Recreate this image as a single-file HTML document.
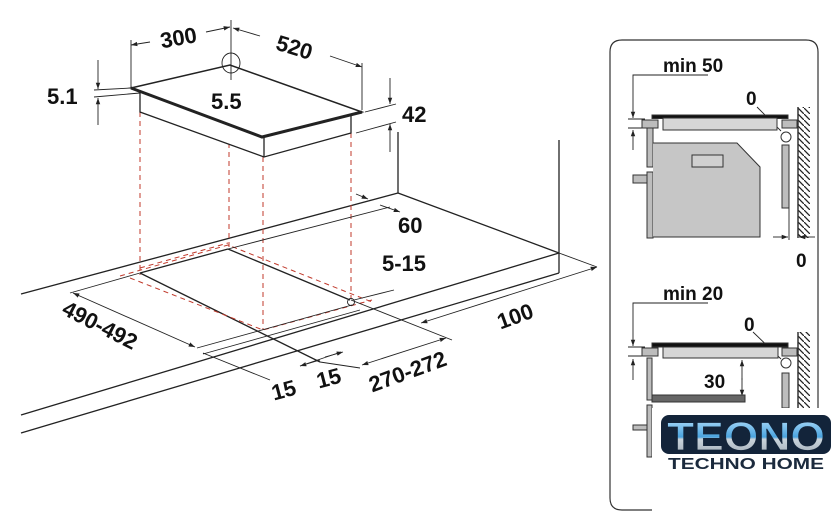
<!DOCTYPE html>
<html><head><meta charset="utf-8"><style>
html,body{margin:0;padding:0;background:#fff;}
svg{display:block;}
text{font-family:"Liberation Sans",sans-serif;font-weight:bold;fill:#111;}
</style></head><body>
<svg width="840" height="532" viewBox="0 0 840 532" xmlns="http://www.w3.org/2000/svg">
<defs>
<marker id="a" viewBox="0 0 10 10" refX="10" refY="5" markerWidth="7" markerHeight="7" orient="auto-start-reverse"><path d="M0,1.5 L10,5 L0,8.5 z" fill="#222"/></marker>
<pattern id="h" width="6" height="6" patternUnits="userSpaceOnUse"><path d="M0,0 L6,6" stroke="#222" stroke-width="1.3"/></pattern>
<linearGradient id="g" x1="0" y1="0" x2="0" y2="1"><stop offset="0" stop-color="#bfe6ff"/><stop offset="0.5" stop-color="#4aa3df"/><stop offset="0.55" stop-color="#c9d3db"/><stop offset="1" stop-color="#9aa6b1"/></linearGradient>
</defs>
<g stroke="#222" fill="none" stroke-width="1.3">
<line x1="398" y1="132" x2="398" y2="193"/>
<line x1="21" y1="294" x2="398" y2="193"/>
<line x1="398" y1="193" x2="559" y2="253"/>
<line x1="559" y1="140" x2="559" y2="273"/>
<line x1="21" y1="415" x2="559" y2="253"/>
<line x1="21" y1="433" x2="559" y2="273"/>
<line x1="140" y1="273" x2="228" y2="249"/>
<line x1="228" y1="249" x2="350" y2="300"/>
<line x1="140" y1="273" x2="320" y2="362"/>
</g>
<g stroke="#c0392b" stroke-width="1" stroke-dasharray="5,4" fill="none">
<line x1="140" y1="112" x2="140" y2="275"/>
<line x1="229" y1="143" x2="229" y2="248"/>
<line x1="263" y1="157" x2="263" y2="330"/>
<line x1="351" y1="133" x2="351" y2="298"/>
<path d="M120,276 L228,245 L372,302"/>
<path d="M130,278 L263,330 L372,300"/>
<path d="M140,268 L228,243"/>
</g>
<g stroke="#222" fill="none" stroke-width="1.3">
<path d="M140,92 L140,112 L264,157 L351,133 L351,112 Z" fill="#fff"/>
<line x1="264" y1="137" x2="264" y2="157"/>
<path d="M131,88 L230,65 L362,112 L262,137 Z" fill="#fff" stroke-width="1.5"/>
<path d="M131,88 L262,137 L362,112" stroke-width="3"/>
</g>
<g stroke="#222" stroke-width="0.9" fill="none">
<line x1="131" y1="40" x2="131" y2="88"/>
<line x1="231" y1="20" x2="231" y2="80"/>
<line x1="150" y1="42" x2="131" y2="45" marker-end="url(#a)"/>
<line x1="206" y1="32" x2="230" y2="27" marker-end="url(#a)"/>
<line x1="260" y1="36" x2="233" y2="28" marker-end="url(#a)"/>
<line x1="330" y1="56" x2="362" y2="67" marker-end="url(#a)"/>
<line x1="362" y1="63" x2="362" y2="110"/>
<ellipse cx="231" cy="63" rx="9" ry="10"/>
<line x1="98" y1="60" x2="98" y2="89" marker-end="url(#a)"/>
<line x1="98" y1="125" x2="98" y2="98" marker-end="url(#a)"/>
<line x1="94" y1="90" x2="131" y2="88"/>
<line x1="94" y1="97" x2="140" y2="93"/>
<line x1="390" y1="78" x2="390" y2="104" marker-end="url(#a)"/>
<line x1="390" y1="152" x2="390" y2="124" marker-end="url(#a)"/>
<line x1="365" y1="112" x2="396" y2="104"/>
<line x1="356" y1="133" x2="396" y2="122"/>
<line x1="356" y1="194" x2="368" y2="199" marker-end="url(#a)"/>
<line x1="228" y1="249" x2="390" y2="207"/>
<line x1="380" y1="205" x2="400" y2="212" marker-end="url(#a)"/>
<line x1="70" y1="293" x2="140" y2="273"/>
<line x1="73" y1="293" x2="195" y2="347" marker-start="url(#a)" marker-end="url(#a)"/>
<line x1="197" y1="348" x2="352" y2="305"/>
<line x1="203" y1="354" x2="360" y2="310"/>
<line x1="203" y1="353" x2="270" y2="380"/>
<line x1="300" y1="366" x2="341" y2="352"/>
<line x1="300" y1="366" x2="320" y2="360" marker-start="url(#a)"/>
<line x1="343" y1="352" x2="325" y2="357" marker-start="url(#a)"/>
<line x1="362" y1="365" x2="446" y2="338" marker-start="url(#a)" marker-end="url(#a)"/>
<line x1="351" y1="300" x2="452" y2="340"/>
<line x1="320" y1="362" x2="360" y2="368"/>
<line x1="421" y1="323" x2="597" y2="267" marker-start="url(#a)" marker-end="url(#a)"/>
<line x1="559" y1="253" x2="597" y2="267"/>
<line x1="394" y1="290" x2="354" y2="300"/>
<circle cx="351" cy="302" r="3.5"/>
</g>
<text x="160" y="45" font-size="22" transform="rotate(-10 180 37)">300</text>
<text x="276" y="56" font-size="22" transform="rotate(17 298 48)">520</text>
<text x="47" y="104" font-size="22">5.1</text>
<text x="211" y="109" font-size="22">5.5</text>
<text x="402" y="122" font-size="22">42</text>
<text x="398" y="233" font-size="22">60</text>
<text x="382" y="271" font-size="22">5-15</text>
<text x="60" y="334" font-size="22" transform="rotate(27 103 325)">490-492</text>
<text x="271" y="397" font-size="22" transform="rotate(-15 286 388)">15</text>
<text x="316" y="385" font-size="22" transform="rotate(-15 331 376)">15</text>
<text x="366" y="377" font-size="22" transform="rotate(-20 413 367)">270-272</text>
<text x="496" y="322" font-size="22" transform="rotate(-20 520 313)">100</text>

<path d="M652,510 L622,510 Q610,510 610,498 L610,52 Q610,40 622,40 L806,40 Q818,40 818,52 L818,410" fill="none" stroke="#333" stroke-width="1.2"/>
<text x="663" y="72" font-size="19">min 50</text>
<g stroke="#222" stroke-width="0.9" fill="none">
<polyline points="708,75 633,75 633,118" marker-end="url(#a)"/>
<line x1="633" y1="150" x2="633" y2="130" marker-end="url(#a)"/>
<line x1="628" y1="119" x2="645" y2="119"/>
<line x1="628" y1="128" x2="645" y2="128"/>
<line x1="757" y1="107" x2="781" y2="131"/>
<line x1="773" y1="237" x2="788" y2="237" marker-end="url(#a)"/>
<line x1="815" y1="237" x2="799" y2="237" marker-end="url(#a)"/>
<line x1="789" y1="208" x2="789" y2="240"/>
<polyline points="708,303 633,303 633,346" marker-end="url(#a)"/>
<line x1="633" y1="380" x2="633" y2="359" marker-end="url(#a)"/>
<line x1="628" y1="347" x2="645" y2="347"/>
<line x1="628" y1="356" x2="645" y2="356"/>
<line x1="753" y1="332" x2="781" y2="359"/>
<line x1="742" y1="380" x2="742" y2="360" marker-end="url(#a)"/>
<line x1="742" y1="378" x2="742" y2="396" marker-end="url(#a)"/>
</g>
<g stroke="#333" stroke-width="1" fill="#bdbdbd">
<rect x="652" y="115" width="136" height="3.5" fill="#111"/>
<rect x="642" y="120" width="16" height="8"/>
<rect x="782" y="120" width="15" height="8"/>
<rect x="663" y="118" width="114" height="12" fill="#d6d6d6"/>
<circle cx="786" cy="137" r="5" fill="#fff"/>
<rect x="647" y="128" width="6" height="39"/>
<rect x="647" y="172" width="6" height="66"/>
<rect x="633" y="175" width="14" height="8"/>
<path d="M653,143 L737,143 L760,167 L760,237 L653,237" fill="#c6c6c6"/>
<rect x="692" y="155" width="31" height="12" fill="#d0d0d0"/>
<rect x="782" y="145" width="7" height="63"/>
<rect x="798" y="107" width="12" height="131" fill="url(#h)" stroke="none"/>
<line x1="798" y1="107" x2="798" y2="238" stroke-width="1.5"/>
<rect x="652" y="343" width="136" height="4" fill="#111"/>
<rect x="642" y="348" width="16" height="8"/>
<rect x="782" y="348" width="15" height="8"/>
<rect x="663" y="347" width="115" height="11" fill="#d6d6d6"/>
<circle cx="786" cy="363" r="5" fill="#fff"/>
<rect x="647" y="358" width="5" height="42"/>
<rect x="652" y="395" width="93" height="7" fill="#666"/>
<rect x="647" y="405" width="5" height="52"/>
<rect x="633" y="425" width="14" height="5"/>
<rect x="782" y="373" width="7" height="35"/>
<rect x="798" y="332" width="12" height="76" fill="url(#h)" stroke="none"/>
<line x1="798" y1="332" x2="798" y2="408" stroke-width="1.5"/>
</g>
<text x="746" y="105" font-size="19">0</text>
<text x="796" y="267" font-size="19">0</text>
<text x="663" y="300" font-size="19">min 20</text>
<text x="744" y="331" font-size="19">0</text>
<text x="704" y="388" font-size="19">30</text>
<rect x="652" y="408" width="188" height="124" fill="#fff"/>
<rect x="661" y="415" width="170" height="39" rx="8" fill="#13243a"/>
<text x="667" y="450" font-size="40" textLength="158" lengthAdjust="spacingAndGlyphs" style="fill:url(#g);stroke:#13243a;stroke-width:0.8">TEONO</text>
<text x="668" y="469" font-size="16" textLength="156" lengthAdjust="spacingAndGlyphs" style="fill:#1b2a3d">TECHNO HOME</text>
</svg>
</body></html>
